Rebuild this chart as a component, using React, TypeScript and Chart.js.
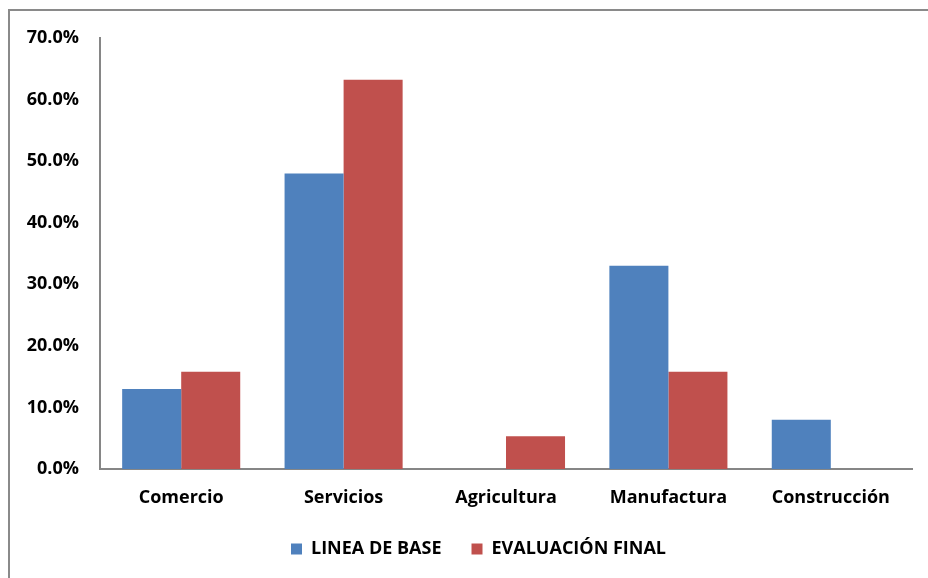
import React, { useEffect, useRef } from "react";
import { Chart, registerables } from "chart.js";

Chart.register(...registerables);

const categories = ["Comercio", "Servicios", "Agricultura", "Manufactura", "Construcción"];
const lineaBase = [13.0, 48.0, 0, 33.0, 8.0];
const evaluacionFinal = [15.8, 63.2, 5.3, 15.8, 0];
const yTicks = [0, 10, 20, 30, 40, 50, 60, 70];

const FONT = "'Open Sans', 'DejaVu Sans', sans-serif";

const frame = {
  id: "frame",
  afterLayout(chart: any) {
    if (chart.legend) {
      chart.legend.left = 45;
    }
  },
  beforeDraw(chart: any) {
    const ctx = chart.ctx;
    ctx.save();
    ctx.fillStyle = "#fff";
    ctx.fillRect(0, 0, chart.width, chart.height);
    ctx.fillStyle = "#8a8a8a";
    ctx.fillRect(8, 9, chart.width - 8, 2);
    ctx.fillRect(8, 9, 2, chart.height - 9);
    ctx.restore();
  },
};

export default function App() {
  const ref = useRef<HTMLCanvasElement>(null);
  useEffect(() => {
    document.body.style.margin = "0";
    document.body.style.overflow = "hidden";
    const chart = new Chart(ref.current!, {
      type: "bar",
      data: {
        labels: categories,
        datasets: [
          { label: "LINEA DE BASE", data: lineaBase, backgroundColor: "#4F81BD" },
          { label: "EVALUACIÓN FINAL", data: evaluacionFinal, backgroundColor: "#C0504D" },
        ],
      },
      options: {
        animation: false,
        responsive: false,
        maintainAspectRatio: false,
        layout: { padding: { left: 0, right: 16, top: 38, bottom: 10 } },
        datasets: { bar: { categoryPercentage: 0.727, barPercentage: 1 } },
        plugins: {
          tooltip: { enabled: false },
          legend: {
            position: "bottom",
            labels: {
              boxWidth: 11,
              boxHeight: 11,
              padding: 30,
              color: "#000",
              font: { family: FONT, size: 18, weight: "bold" },
            },
          },
        },
        scales: {
          x: {
            grid: { display: false, drawTicks: false },
            border: { display: true, color: "#868686", width: 2 },
            ticks: {
              color: "#000",
              padding: 18,
              font: { family: FONT, size: 18, weight: "bold" },
            },
            afterFit(scale: any) {
              scale.height = 41;
            },
          },
          y: {
            min: 0,
            max: 70,
            grid: { display: false, drawTicks: false },
            border: { display: true, color: "#868686", width: 2 },
            afterBuildTicks(scale: any) {
              scale.ticks = yTicks.map((v) => ({ value: v }));
            },
            ticks: {
              color: "#000",
              padding: 21,
              font: { family: FONT, size: 18, weight: "bold" },
              callback: (v: any) => Number(v).toFixed(1) + "%",
            },
            afterFit(scale: any) {
              scale.width = 100;
            },
          },
        },
      },
      plugins: [frame],
    });
    return () => chart.destroy();
  }, []);
  return (
    <div style={{ position: "fixed", left: 0, top: 0, width: 928, height: 578 }}>
      <canvas ref={ref} width={928} height={578} style={{ display: "block" }} />
    </div>
  );
}
